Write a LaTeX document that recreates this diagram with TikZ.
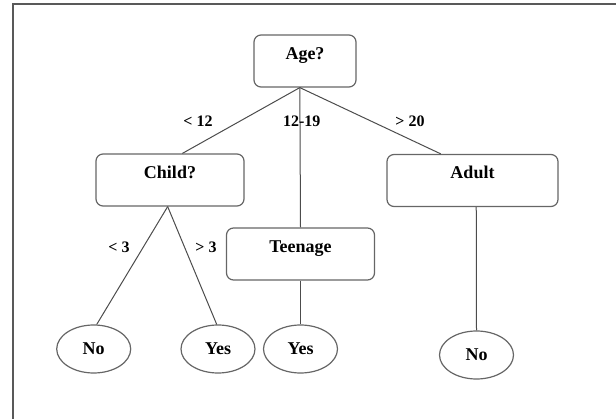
\documentclass[tikz,border=0pt]{standalone}
\usepackage{fontspec}
\setmainfont{Liberation Serif}
\usetikzlibrary{shapes.geometric}
\tikzset{
 dt frame/.style={line width=1.6pt,black!65},
 dt test/.style={draw=black!60,line width=1.2pt,rounded corners=7pt,inner sep=0pt,
                 minimum height=52pt,text height=12pt,text depth=15pt,
                 font=\fontsize{18}{21}\selectfont\bfseries},
 dt leaf/.style={ellipse,draw=black!60,line width=1.2pt,inner sep=0pt,
                 minimum width=74pt,minimum height=48pt,
                 font=\fontsize{18}{21}\selectfont\bfseries},
 dt branch/.style={line width=1pt,black!70},
 dt branch label/.style={inner sep=0pt,font=\fontsize{16}{19}\selectfont\bfseries}
}

\begin{document}
\begin{tikzpicture}[x=1pt,y=-1pt]
 \useasboundingbox (0,0) rectangle (616,419);
 \draw[dt frame] (13,419) |- (616,4);

 % tests
 \node[dt test,minimum width=102pt] (age) at (305,61) {Age?};
 \node[dt test,minimum width=148pt] (child) at (170,180) {Child?};
 \node[dt test,minimum width=171pt] (adult) at (472.5,180.5) {Adult};
 \node[dt test,minimum width=148pt] (teen) at (300.5,254) {Teenage};

 % leaves
 \node[dt leaf] (no1) at (93.7,349) {No};
 \node[dt leaf] (yes1) at (218,349) {Yes};
 \node[dt leaf] (yes2) at (300.5,349) {Yes};
 \node[dt leaf] (no2) at (476.5,355) {No};

 \draw[dt branch] (age.259)--(child.65);
 \draw[dt branch] (age.259)--(teen.north);
 \draw[dt branch] (age.259)--(adult.140);
 \draw[dt branch] (child.265)--(no1.83);
 \draw[dt branch] (child.265)--(yes1.93);
 \draw[dt branch] (teen.south)--(yes2.north);
 \draw[dt branch] (adult.-82)--(no2.north);

 \node[dt branch label] (lt12) at (198,121) {< 12};
 \node[dt branch label] (mid) at (301.7,121) {12-19};
 \node[dt branch label] (gt20) at (410,121) {> 20};
 \node[dt branch label] (lt3) at (119,247) {< 3};
 \node[dt branch label] (gt3) at (206,247) {> 3};
\end{tikzpicture}
\end{document}
